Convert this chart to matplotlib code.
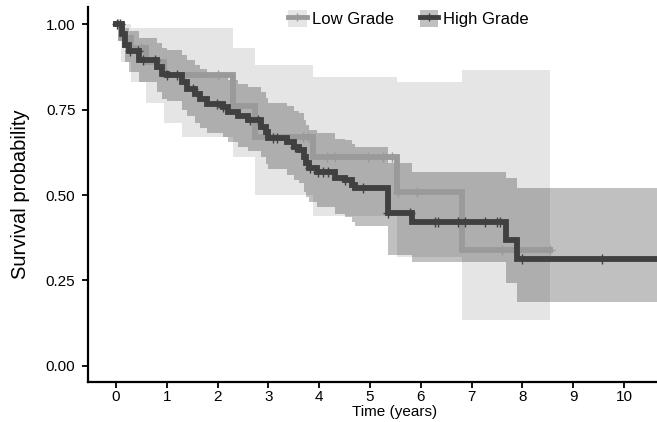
import numpy as np
import matplotlib
matplotlib.use("Agg")
import matplotlib.pyplot as plt
from matplotlib.patches import Patch
from matplotlib.lines import Line2D

plt.rcParams['font.family'] = ['Liberation Sans', 'DejaVu Sans']

# Low Grade: step times, survival, confidence band
lg_time = [0, 0.1, 0.3, 0.6, 0.95, 1.3, 2.31, 2.74, 3.88, 5.53, 6.81, 8.55]
lg_surv = [1.0, 0.96, 0.93, 0.89, 0.85, 0.85, 0.76, 0.67, 0.61, 0.51, 0.34, 0.34]
lg_upper = [1.0, 1.0, 0.99, 0.99, 0.99, 0.99, 0.93, 0.88, 0.845, 0.83, 0.866, 0.866]
lg_lower = [1.0, 0.89, 0.83, 0.77, 0.71, 0.67, 0.61, 0.50, 0.44, 0.32, 0.135, 0.135]
lg_cens = [0.05, 0.5, 2.0, 3.68, 3.78, 4.15, 4.31, 4.96, 5.26, 5.43, 5.55, 5.93, 7.6, 8.54]

# High Grade
hg_time = [0, 0.12, 0.18, 0.25, 0.45, 0.8, 0.9, 1.0, 1.3, 1.4, 1.55, 1.65, 1.8, 2.1, 2.2,
           2.4, 2.6, 2.85, 2.95, 3.0, 3.37, 3.5, 3.6, 3.7, 3.75, 3.8, 3.95, 4.31, 4.5,
           4.65, 4.7, 5.35, 5.83, 7.68, 7.89, 10.7]
hg_surv = [1.0, 0.97, 0.94, 0.92, 0.895, 0.875, 0.855, 0.85, 0.83, 0.81, 0.795, 0.78, 0.765,
           0.757, 0.743, 0.73, 0.72, 0.70, 0.685, 0.667, 0.655, 0.64, 0.632, 0.61, 0.594,
           0.58, 0.567, 0.55, 0.544, 0.53, 0.52, 0.447, 0.42, 0.368, 0.313, 0.313]
hg_upper = [1.0, 1.0, 0.99, 0.98, 0.96, 0.945, 0.93, 0.925, 0.91, 0.895, 0.88, 0.87, 0.855,
            0.85, 0.835, 0.825, 0.815, 0.80, 0.785, 0.77, 0.76, 0.745, 0.74, 0.72, 0.705,
            0.69, 0.68, 0.665, 0.66, 0.65, 0.64, 0.594, 0.567, 0.55, 0.52, 0.52]
hg_lower = [1.0, 0.93, 0.89, 0.86, 0.83, 0.80, 0.78, 0.775, 0.75, 0.73, 0.71, 0.695, 0.68,
            0.67, 0.655, 0.64, 0.63, 0.61, 0.59, 0.575, 0.56, 0.545, 0.535, 0.51, 0.495,
            0.48, 0.465, 0.445, 0.435, 0.42, 0.41, 0.325, 0.304, 0.243, 0.187, 0.187]
hg_cens = [0.02, 0.08, 0.28, 0.43, 0.53, 0.77, 1.0, 1.2, 1.52, 1.99, 2.1, 2.64, 2.8, 3.09,
           3.17, 3.52, 3.82, 3.98, 4.07, 4.17, 4.5, 4.86, 5.35, 5.79, 6.28, 6.34, 6.73,
           6.87, 7.26, 7.5, 7.56, 7.99, 9.57]

labels = ['Low Grade', 'High Grade']
line_cols = ['#9a9a9a', '#404040']
band_alpha = [0.25, 0.33]

fig = plt.figure(figsize=(6.57, 4.22), dpi=100)
ax = fig.add_axes([88/657, 40/422, 569/657, 375/422])

groups = [(lg_time, lg_surv, lg_upper, lg_lower, lg_cens),
          (hg_time, hg_surv, hg_upper, hg_lower, hg_cens)]

for (t, s, up, lo, cens), col, a in zip(groups, line_cols, band_alpha):
    ax.fill_between(t, lo, up, step='post', color=col, alpha=a, lw=0)

handles = []
for (t, s, up, lo, cens), col, a, lab in zip(groups, line_cols, band_alpha, labels):
    ax.step(t, s, where='post', color=col, lw=4.2, solid_joinstyle='miter')
    idx = np.searchsorted(t, cens, side='right') - 1
    ax.plot(cens, np.array(s)[idx], ls='none', marker='+', ms=7, mew=1.0, color=col)
    handles.append((Patch(facecolor=col, alpha=a, edgecolor='none'),
                    Line2D([], [], color=col, lw=3.5, marker='+', ms=6, mew=1)))

ax.set_xlim(-0.55, 10.65)
ax.set_ylim(-0.047, 1.05)
ax.set_xticks(range(0, 11))
ax.set_yticks([0, 0.25, 0.5, 0.75, 1.0])
ax.set_yticklabels(['0.00', '0.25', '0.50', '0.75', '1.00'])
for sp in ['top', 'right']:
    ax.spines[sp].set_visible(False)
for sp in ['left', 'bottom']:
    ax.spines[sp].set_linewidth(1.6)
ax.tick_params(direction='out', length=4, width=1.3, labelsize=11, pad=5)
ax.tick_params(axis='x', pad=2)
ax.set_xlabel('Time (years)', fontsize=11)
ax.set_ylabel('Survival probability', fontsize=14.5)
ax.xaxis.set_label_coords((395 - 88) / 569, -0.062)
ax.yaxis.set_label_coords(-0.102, 0.5)

fig.legend(handles, labels, loc='center', bbox_to_anchor=(0.622, 0.957), ncol=2,
           frameon=False, fontsize=12, handlelength=1.1, handleheight=1.2,
           columnspacing=1.6, handletextpad=0.3)

fig.savefig('out.png', dpi=100)
